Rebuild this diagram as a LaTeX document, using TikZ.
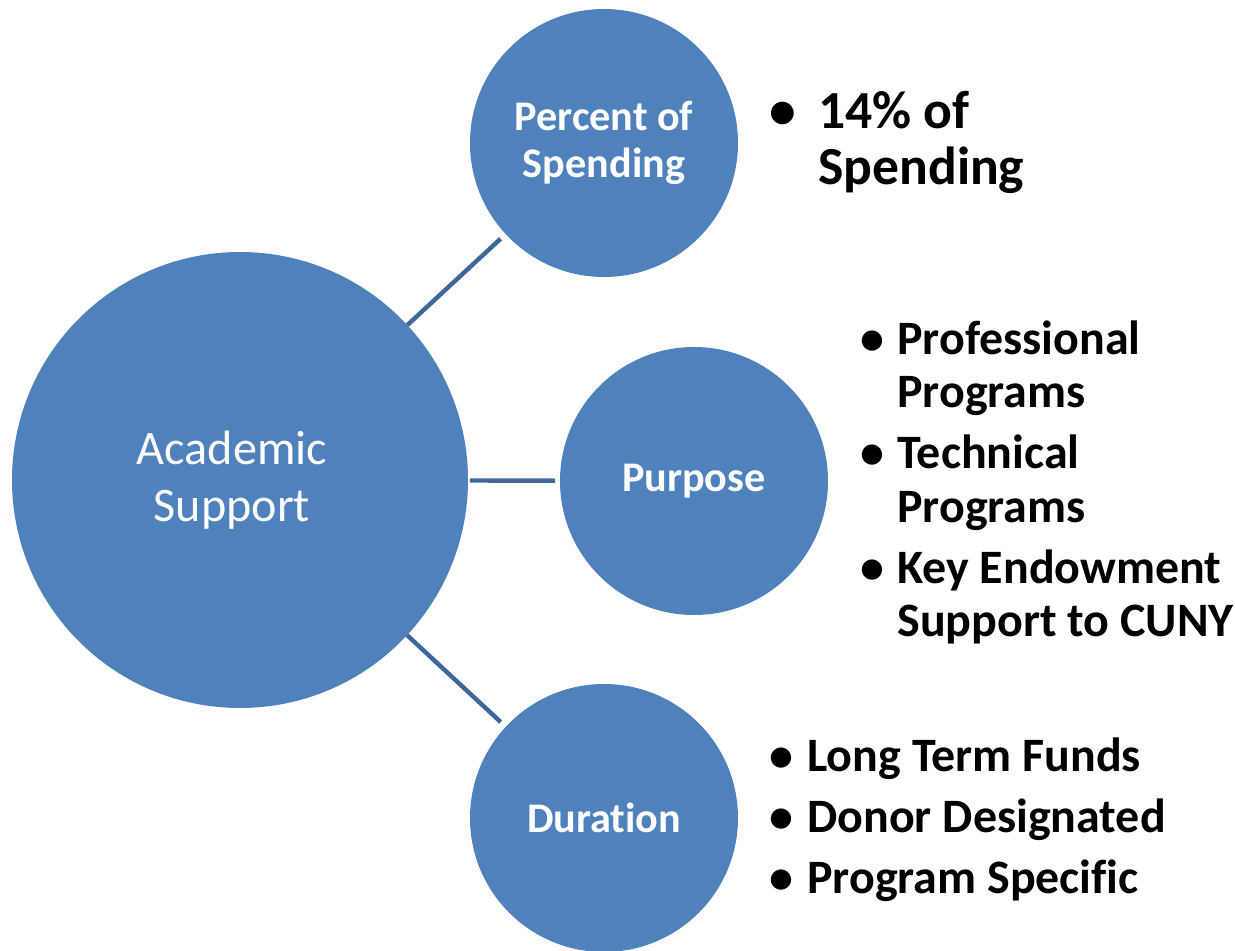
\documentclass[tikz,border=0pt]{standalone}
\usepackage{fontspec}
\setmainfont{Carlito}[Ligatures=NoCommon]
\usepackage{array}

\definecolor{circblue}{RGB}{79,129,189}
\definecolor{linkblue}{RGB}{62,103,155}

\tikzset{
    bubble/.style={circle, fill=circblue, inner sep=0pt, outer sep=0pt,
        text=white, align=center},
    bubbletext/.style={font=\bfseries\fontsize{24}{27}\selectfont},
    link/.style={draw=linkblue, line width=2.5pt}
}

\newcommand{\bul}[1]{\makebox[#1][l]{\textbullet}}

\begin{document}
\begin{tikzpicture}
        \useasboundingbox (0,0) rectangle (24.7,-19.02);

        \node[bubble, minimum size=9.12cm,
            label={[text=white, align=center, xshift=-0.16cm,
                font=\fontsize{27.4}{32.5}\selectfont]center:Academic\\Support}]
            (acad) at (4.8,-9.6) {};
        \node[bubble, bubbletext, minimum size=5.36cm] (pct) at (12.08,-2.86) {Percent of\\Spending};
        \node[bubble, bubbletext, minimum size=5.36cm] (purp) at (13.88,-9.62) {Purpose};
        \node[bubble, bubbletext, minimum size=5.36cm] (dur) at (12.08,-16.36) {Duration};

        \draw[link, shorten >=0.14cm] (acad) -- (pct);
        \draw[link, shorten <=0.04cm, shorten >=0.1cm] (acad) -- (purp);
        \draw[link, shorten >=0.14cm] (acad) -- (dur);

        \node[anchor=base west, inner sep=0pt] (pctlist) at (15.38,-2.56) {%
            \fontsize{30.5}{32.3}\selectfont\bfseries
            \begin{tabular}[t]{@{}l@{}l@{}}
                \bul{0.98cm} & 14\% of \\
                             & Spending \\
            \end{tabular}
        };

        \node[anchor=base west, inner sep=0pt] (purplist) at (17.2,-7.08) {%
            \fontsize{27.3}{30.6}\selectfont\bfseries
            \begin{tabular}[t]{@{}l@{}l@{}}
                \bul{0.74cm} & Professional \\
                             & Programs \\[0.14cm]
                \bul{0.74cm} & Technical \\
                             & Programs \\[0.14cm]
                \bul{0.74cm} & Key Endowment \\
                             & Support to CUNY \\
            \end{tabular}
        };

        \node[anchor=base west, inner sep=0pt] (durlist) at (15.38,-15.42) {%
            \fontsize{27.3}{34.8}\selectfont\bfseries
            \begin{tabular}[t]{@{}l@{}l@{}}
                \bul{0.76cm} & Long Term Funds \\
                \bul{0.76cm} & Donor Designated \\
                \bul{0.76cm} & Program Specific \\
            \end{tabular}
        };

    \end{tikzpicture}
\end{document}
